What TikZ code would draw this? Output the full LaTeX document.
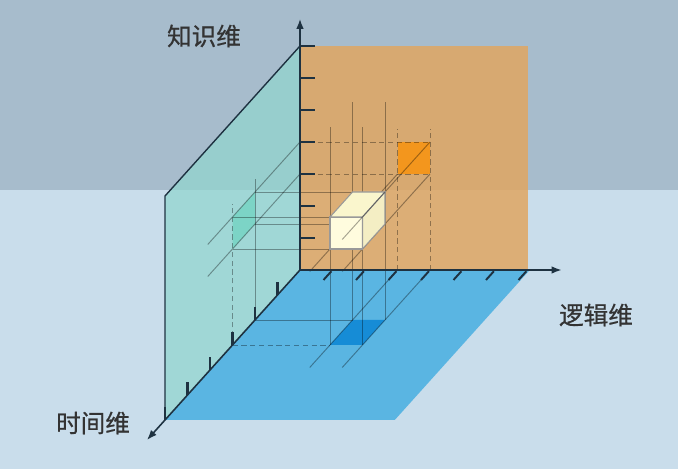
\documentclass[tikz,border=0pt]{standalone}
\usepackage{fontspec}
\newfontfamily\cjk[FakeBold=0.6]{Noto Sans CJK SC}
\usetikzlibrary{arrows.meta}
\definecolor{bgtop}{RGB}{167,188,204}
\definecolor{bgbot}{RGB}{201,221,235}
\definecolor{wallorange}{RGB}{224,166,98}
\definecolor{wallteal}{RGB}{145,214,206}
\definecolor{floorblue}{RGB}{90,181,226}
\definecolor{axisdark}{RGB}{30,50,65}
\definecolor{hiorange}{RGB}{247,148,20}
\definecolor{hiblue}{RGB}{22,140,214}
\definecolor{hiteal}{RGB}{110,212,192}
\definecolor{cubefront}{RGB}{255,252,222}
\definecolor{cubetop}{RGB}{250,246,205}
\definecolor{cubeside}{RGB}{244,238,196}
\tikzset{
  axisarrow/.style={draw=axisdark, line width=0.9pt, -{Latex[length=2mm,width=1.5mm]}},
  axtick/.style={draw=axisdark, line width=1.4pt},
  proj/.style={draw=black, opacity=0.35, line width=0.55pt},
  projdash/.style={proj, dash pattern=on 3pt off 2pt},
  cubeface/.style={draw=black!40, line width=0.6pt},
  lab/.style={font=\cjk\fontsize{14pt}{17pt}\selectfont, text=black!80},
}
\begin{document}
\begin{tikzpicture}
  % background
  \fill[bgbot] (0,0) rectangle (13.56,5.58);
  \fill[bgtop] (0,5.58) rectangle (13.56,9.38);
  \begin{scope}[shift={(6.0,3.98)}, x={(0.65cm,0cm)}, y={(0cm,0.64cm)}, z={(-0.45cm,-0.5cm)}]
    \coordinate (o) at (0,0,0);
    \coordinate (vend) at (0,7.85,0);
    \coordinate (hend) at (8.05,0,0);
    \coordinate (tend) at (0,0,6.8);
    % the three planes
    \fill[wallorange, opacity=0.85] (o) -- (7,0,0) -- (7,7,0) -- (0,7,0) -- cycle;
    \fill[wallteal, opacity=0.72] (o) -- (0,7,0) -- (0,7,6) -- (0,0,6) -- cycle;
    \fill[floorblue] (o) -- (7.07,0,0) -- (7.07,0,6) -- (0,0,6) -- cycle;
    \draw[axisdark, line width=0.8pt] (0,7,0) -- (0,7,6) -- (0,0,6);
    % projections of the cube
    \fill[hiorange, opacity=0.9] (3,3,0) -- (4,3,0) -- (4,4,0) -- (3,4,0) -- cycle;
    \fill[hiteal, opacity=0.7] (0,3,2) -- (0,4,2) -- (0,4,3) -- (0,3,3) -- cycle;
    \fill[hiblue] (3,0,2) -- (4,0,2) -- (4,0,3) -- (3,0,3) -- cycle;
    \foreach \h/\t in {3/2,4/2,3/3,4/3}
      \draw[proj] (\h,0,\t) -- (\h,6.8,\t);
    \foreach \h in {3,4} {
      \draw[projdash] (\h,0,0) -- (\h,4.4,0);
      \draw[proj] (\h,0,0) -- (\h,0,3.9);
    }
    \foreach \v in {3,4} {
      \draw[projdash] (0,\v,0) -- (4,\v,0);
      \draw[proj] (0,\v,0) -- (0,\v,4.1);
      \draw[proj] (0,\v,2) -- (3,\v,2);
      \draw[proj] (0,\v,3) -- (3,\v,3);
    }
    \draw[proj] (3,3,0) -- (3,3,3.9);
    \draw[proj] (4,3,0) -- (4,3,3.9);
    \draw[proj] (4,4,0) -- (4,4,2);
    \draw[proj] (0,0,2) -- (0,4.4,2);
    \draw[projdash] (0,0,3) -- (0,4.4,3);
    \draw[proj] (0,0,2) -- (3,0,2);
    \draw[projdash] (0,0,3) -- (3,0,3);
    % cube
    \filldraw[cubeface, fill=cubefront] (3,3,3) -- (4,3,3) -- (4,4,3) -- (3,4,3) -- cycle;
    \filldraw[cubeface, fill=cubetop] (3,4,3) -- (4,4,3) -- (4,4,2) -- (3,4,2) -- cycle;
    \filldraw[cubeface, fill=cubeside] (4,3,3) -- (4,3,2) -- (4,4,2) -- (4,4,3) -- cycle;
    \draw[proj] (4,4,2) -- (4,4,3.9);
    % ticks
    \foreach \v in {1,...,7}
      \draw[axtick] (0,\v,0) -- (0.45,\v,0);
    \foreach \t in {1,...,6}
      \draw[axtick] (0,0,\t) -- (0,0.4,\t);
    \foreach \h in {1,...,7}
      \draw[axtick, line width=1.1pt] (\h,0,0.05) -- (\h,0,0.4);
    % axes
    \draw[axisarrow] (o) -- (vend);
    \draw[axisarrow] (o) -- (hend);
    \draw[axisarrow] (o) -- (tend);
  \end{scope}
  \node[lab] (lknow) at (4.08,8.66) {知识维};
  \node[lab] (llogic) at (11.92,3.08) {逻辑维};
  \node[lab] (ltime) at (1.86,0.92) {时间维};
\end{tikzpicture}
\end{document}
